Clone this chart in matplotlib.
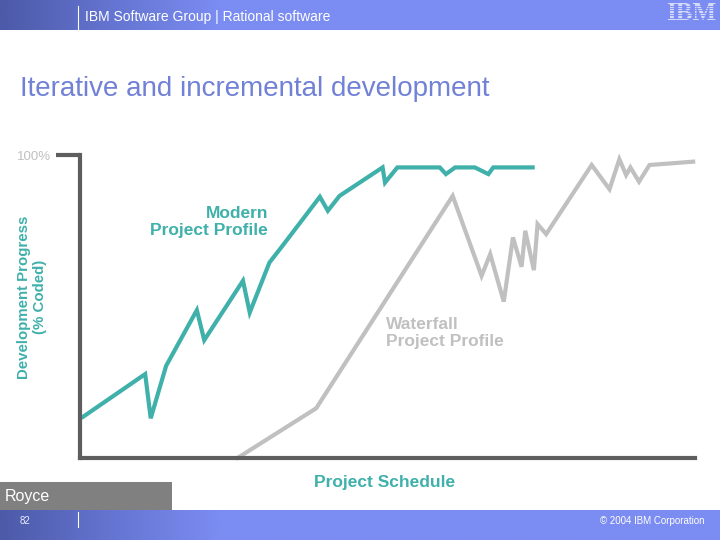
import numpy as np
import matplotlib
matplotlib.use("Agg")
import matplotlib.pyplot as plt
from matplotlib.colors import LinearSegmentedColormap
from matplotlib.patches import Rectangle

plt.rcParams['font.family'] = ['Liberation Sans', 'DejaVu Sans']

# ---- data (schedule % vs progress % coded) ----
modern_x = [0.5, 10.6, 11.5, 14.0, 19.0, 20.2, 26.5, 27.6, 30.8, 32.8, 39.0, 40.3,
            42.2, 49.2, 49.6, 51.6, 58.5, 59.5, 61.0, 64.2, 66.4, 67.2, 73.6]
modern_y = [13.6, 27.7, 13.1, 30.4, 48.8, 38.9, 58.5, 48.0, 64.5, 69.7, 86.2, 81.6,
            86.5, 95.9, 90.9, 95.9, 95.9, 93.7, 95.9, 95.9, 93.7, 95.9, 95.9]

waterfall_x = [25.6, 38.4, 60.6, 65.3, 66.7, 68.9, 70.4, 71.8, 72.4, 73.8, 74.4,
               75.8, 83.2, 86.1, 87.7, 88.8, 89.5, 90.9, 92.6, 99.7]
waterfall_y = [0.0, 16.4, 86.5, 60.1, 67.3, 51.6, 72.8, 63.1, 75.0, 62.0, 77.2,
               73.9, 96.7, 88.7, 98.6, 93.4, 95.9, 91.2, 96.7, 97.8]

ytick_vals = [100]
ytick_labels = ["100%"]

TEAL = "#3fb0aa"
GREY = "#c0c0c0"
SPINE = "#5e5e5e"
BAND = "#7b8cf2"
TITLE = "#7181d6"

W, H = 720, 540
fig = plt.figure(figsize=(W / 100, H / 100), dpi=100)
fig.patch.set_facecolor("white")


def fx(x):
    return x / W


def fy(y):
    return 1 - y / H


# ---- header and footer bands ----
cmap = LinearSegmentedColormap.from_list("band", ["#4c5aa8", "#6474d0", BAND, BAND])
grad = np.linspace(0, 1, 300)
grad = np.clip(grad * 2.2, 0, 1)[None, :]

for (y0, y1) in [(0, 30), (510, 540)]:
    bax = fig.add_axes([0, fy(y1), 1, (y1 - y0) / H])
    bax.imshow(grad, aspect="auto", cmap=cmap, extent=[0, 1, 0, 1])
    bax.set_xlim(0, 1)
    bax.set_ylim(0, 1)
    bax.axis("off")

# vertical separators
fig.add_artist(plt.Line2D([fx(78), fx(78)], [fy(30), fy(6)], color="white", lw=0.8))
fig.add_artist(plt.Line2D([fx(78), fx(78)], [fy(527), fy(512)], color="white", lw=0.8))

fig.text(fx(85), fy(17), "IBM Software Group | Rational software", color="white",
         fontsize=10, va="center", ha="left")

# IBM logo (striped)
fig.text(fx(691), fy(14), "IBM", color="#d4daf8", fontsize=18, fontweight="bold",
         va="center", ha="center", family=["Liberation Serif"])
for yy in np.arange(5.5, 25, 2.4):
    fig.add_artist(plt.Line2D([fx(664), fx(718)], [fy(yy), fy(yy)], color=BAND,
                              lw=0.6, zorder=10))

fig.text(fx(20), fy(521), "82", color="#e8ecff", fontsize=7, va="center", ha="left")
fig.text(fx(705), fy(521), "\u00a9 2004 IBM Corporation", color="white", fontsize=7,
         va="center", ha="right")

# Royce box
fig.add_artist(Rectangle((0, fy(510)), fx(172), (510 - 482) / H, transform=fig.transFigure,
                         facecolor="#808080", edgecolor="none"))
fig.text(fx(5), fy(496), "Royce", color="white", fontsize=11.5, va="center", ha="left")

# title
fig.text(fx(20), fy(89), "Iterative and incremental development", color=TITLE,
         fontsize=20, va="center", ha="left")

# ---- main chart ----
ax = fig.add_axes([fx(80), fy(458), fx(695) - fx(80), (458 - 155) / H])
ax.set_xlim(0, 100)
ax.set_ylim(0, 100)
ax.plot(waterfall_x, waterfall_y, color=GREY, lw=3.0, solid_joinstyle="miter",
        clip_on=False, zorder=2)
ax.plot(modern_x, modern_y, color=TEAL, lw=3.0, solid_joinstyle="miter",
        clip_on=False, zorder=3)

for s in ["top", "right"]:
    ax.spines[s].set_visible(False)
for s in ["left", "bottom"]:
    ax.spines[s].set_color(SPINE)
    ax.spines[s].set_linewidth(3.0)
    ax.spines[s].set_zorder(4)

ax.set_xticks([])
ax.set_yticks(ytick_vals)
ax.set_yticklabels(ytick_labels)
ax.tick_params(axis="y", length=17, width=3.0, color=SPINE, pad=4,
               labelsize=9.5, labelcolor=GREY)
ax.patch.set_alpha(0)

ax.set_ylabel("Development Progress\n(% Coded)", color=TEAL, fontsize=10.8,
              fontweight="bold", linespacing=1.15)
ax.yaxis.set_label_coords((47 - 80) / 615, (458 - 297) / 303)

ax.set_xlabel("Project Schedule", color=TEAL, fontsize=12.5, fontweight="bold")
ax.xaxis.set_label_coords((385 - 80) / 615, -(482 - 458) / 303)
ax.xaxis.label.set_va("center")

fig.text(fx(268), fy(222), "Modern\nProject Profile", color=TEAL, fontsize=12.5,
         fontweight="bold", ha="right", va="center", multialignment="right",
         linespacing=1.22)
fig.text(fx(386), fy(333), "Waterfall\nProject Profile", color=GREY, fontsize=12.5,
         fontweight="bold", ha="left", va="center", multialignment="left",
         linespacing=1.22)

fig.savefig("out.png", dpi=100)
